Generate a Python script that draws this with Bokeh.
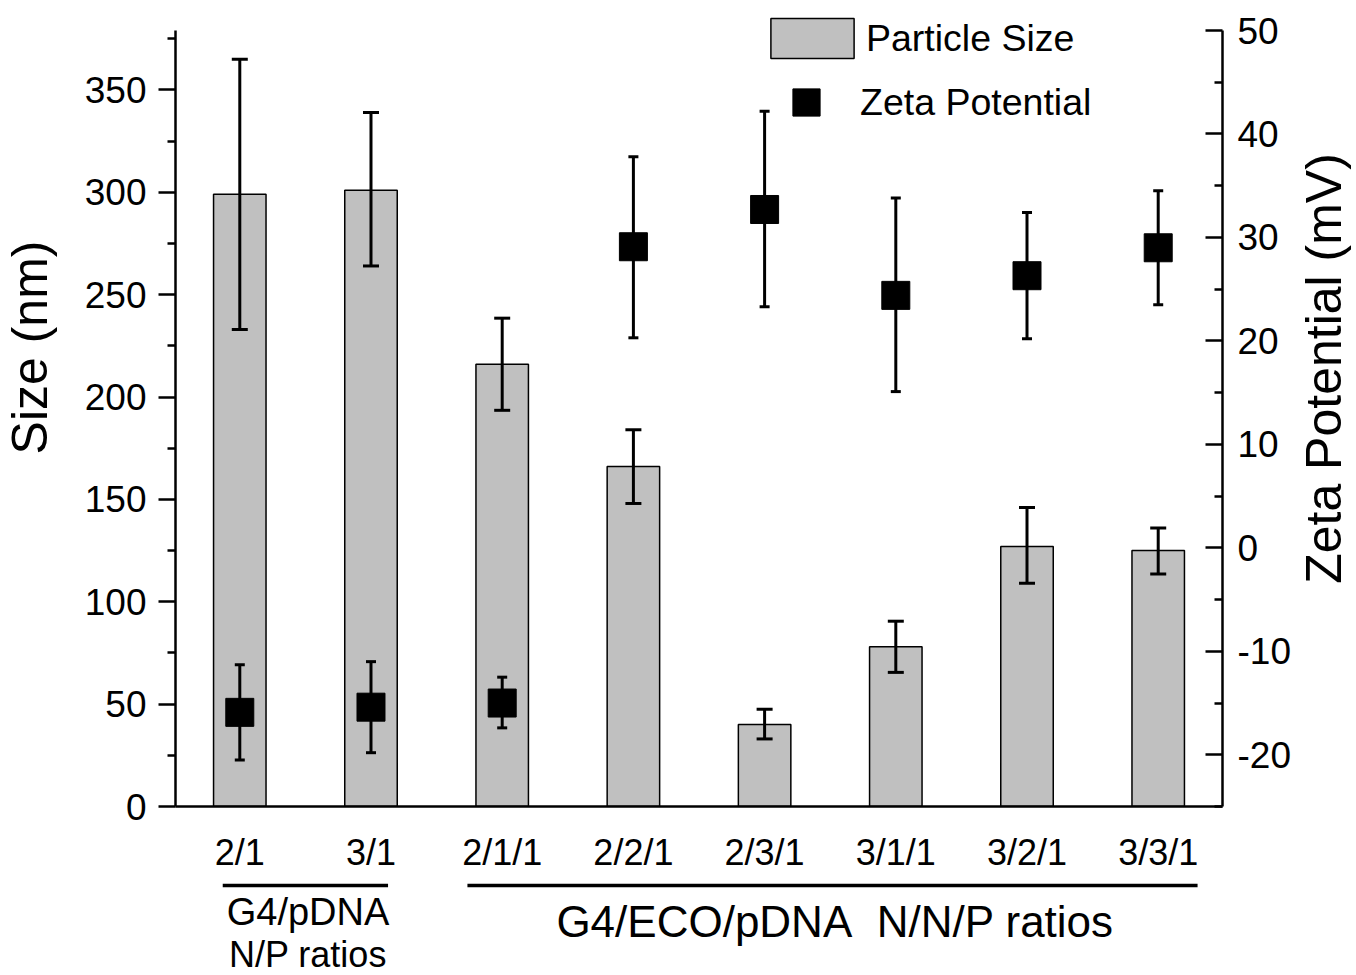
import math
from bokeh.plotting import figure
from bokeh.models import (Range1d, LinearAxis, FixedTicker, Whisker, TeeHead, ColumnDataSource,
                          Legend, LegendItem)
from bokeh.layouts import column, row
from bokeh.core.properties import value
from bokeh.embed import file_html
from bokeh.resources import INLINE

FONT = "Liberation Sans"

# ---------------- data ----------------
categories = ["2/1", "3/1", "2/1/1", "2/2/1", "2/3/1", "3/1/1", "3/2/1", "3/3/1"]
size_mean = [299, 301, 216, 166, 40, 78, 127, 125]
size_low = [233, 264, 193.5, 148, 33, 65.5, 109, 113.5]
size_high = [365, 339, 238.5, 184, 47.5, 90.5, 146, 136]
zeta_mean = [-15.9, -15.4, -15.0, 29.1, 32.7, 24.4, 26.3, 29.0]
zeta_low = [-20.5, -19.8, -17.4, 20.3, 23.3, 15.1, 20.2, 23.5]
zeta_high = [-11.3, -11.0, -12.5, 37.8, 42.2, 33.8, 32.4, 34.5]

size_ticks = [0, 50, 100, 150, 200, 250, 300, 350]
size_minor = [25, 75, 125, 175, 225, 275, 325, 375]
zeta_ticks = [-20, -10, 0, 10, 20, 30, 40, 50]
zeta_minor = [-25, -15, -5, 5, 15, 25, 35, 45]
size_bounds = (0, 379)
zeta_bounds = (-25, 50)

group_members = [[0, 1], [2, 3, 4, 5, 6, 7]]
group_pad = [(0.13, 0.13), (0.265, 0.30)]
group_text = [["G4/pDNA", "N/P ratios"], ["G4/ECO/pDNA\u00a0 N/N/P ratios"]]

x = list(range(len(categories)))

src = ColumnDataSource(dict(x=x, size=size_mean, slo=size_low, shi=size_high,
                            z=zeta_mean, zlo=zeta_low, zhi=zeta_high))

# ---------------- layout numbers ----------------
AXIS_PX = 776      # pixel length of the drawn axes
FRAME_PX = 794     # frame height (extra room on top for the legend)
ext = FRAME_PX / AXIS_PX
size_range = Range1d(size_bounds[0], size_bounds[0] + (size_bounds[1] - size_bounds[0]) * ext)
zeta_range = Range1d(zeta_bounds[0], zeta_bounds[0] + (zeta_bounds[1] - zeta_bounds[0]) * ext)

W_L, W_R = 58, 62
W_C = 1356 - W_L - W_R
H_P = 876
H_Q = 975 - H_P
MB_L, MB_R = 117, 72

# ---------------- main figure ----------------
p = figure(width=W_C, height=H_P, x_range=Range1d(-0.49, 7.49), y_range=size_range,
           x_axis_type=None, y_axis_type=None, output_backend="svg", toolbar_location=None,
           min_border_left=MB_L, min_border_right=MB_R, min_border_top=12, min_border_bottom=70)
p.outline_line_color = None
p.extra_y_ranges = {"zeta": zeta_range}

bars = p.vbar(x="x", top="size", bottom=0, width=0.4, source=src,
              fill_color="#c0c0c0", line_color="black", line_width=1.5)

w1 = Whisker(base="x", lower="slo", upper="shi", source=src, dimension="height",
             line_width=3, line_color="black", level="overlay",
             upper_head=TeeHead(size=16, line_width=3, line_color="black"),
             lower_head=TeeHead(size=16, line_width=3, line_color="black"))
p.add_layout(w1)

w2 = Whisker(base="x", lower="zlo", upper="zhi", source=src, dimension="height",
             y_range_name="zeta", line_width=3, line_color="black", level="overlay",
             upper_head=TeeHead(size=10, line_width=3, line_color="black"),
             lower_head=TeeHead(size=10, line_width=3, line_color="black"))
p.add_layout(w2)

pts = p.scatter("x", "z", source=src, y_range_name="zeta", marker="square", size=28,
                fill_color="black", line_color="black", level="overlay")

# axes
xaxis = LinearAxis(ticker=FixedTicker(ticks=x),
                   major_label_overrides={i: c for i, c in enumerate(categories)},
                   major_tick_out=0, major_tick_in=0, minor_tick_out=0, minor_tick_in=0,
                   major_label_standoff=25, major_label_text_font=FONT,
                   major_label_text_font_size="36px", major_label_text_color="black",
                   axis_line_width=2.5, axis_line_color="black")
p.add_layout(xaxis, "below")

yl = LinearAxis(ticker=FixedTicker(ticks=size_ticks, minor_ticks=size_minor), bounds=size_bounds,
                major_label_text_font=FONT, major_label_text_font_size="37px",
                major_label_text_color="black", major_label_standoff=12,
                major_tick_out=17, major_tick_in=0, minor_tick_out=8, minor_tick_in=0,
                axis_line_width=2.5, major_tick_line_width=2.5, minor_tick_line_width=2.5)
p.add_layout(yl, "left")

yr = LinearAxis(y_range_name="zeta", bounds=zeta_bounds,
                ticker=FixedTicker(ticks=zeta_ticks, minor_ticks=zeta_minor),
                major_label_overrides={t: str(t) for t in zeta_ticks if t < 0},
                major_label_text_font=FONT, major_label_text_font_size="37px",
                major_label_text_color="black", major_label_standoff=15,
                major_tick_out=0, major_tick_in=17, minor_tick_out=0, minor_tick_in=8,
                axis_line_width=2.5, major_tick_line_width=2.5, minor_tick_line_width=2.5)
p.add_layout(yr, "right")

# legends
common = dict(padding=0, margin=0, spacing=0, border_line_color=None,
              background_fill_alpha=0, label_text_font=FONT, label_text_font_size="37.5px",
              label_text_color="black")
leg1 = Legend(items=[LegendItem(label="Particle Size", renderers=[bars])],
              location=(585, 743), glyph_width=104, glyph_height=50, label_standoff=2, **common)
leg2 = Legend(items=[LegendItem(label="Zeta Potential", renderers=[pts])],
              location=(597, 670), glyph_width=68, glyph_height=68, label_standoff=20, **common)
p.add_layout(leg1)
p.add_layout(leg2)

# ---------------- group brackets below ----------------
q = figure(width=W_C, height=H_Q, x_range=p.x_range, y_range=Range1d(H_Q, 0),
           x_axis_type=None, y_axis_type=None, output_backend="svg", toolbar_location=None,
           min_border_left=MB_L, min_border_right=MB_R, min_border_top=0, min_border_bottom=0)
q.outline_line_color = None

x0s, x1s, tx, ty, tt, tsz = [], [], [], [], [], []
mids = [[35.5, 78], [44.5]]
sizes = [["38px", "36px"], ["44px"]]
for g, (mem, pad, lines) in enumerate(zip(group_members, group_pad, group_text)):
    a = min(mem) - pad[0]
    b = max(mem) + pad[1]
    x0s.append(a)
    x1s.append(b)
    for k, (line, ym) in enumerate(zip(lines, mids[g])):
        tx.append((a + b) / 2 + 0.02)
        ty.append(ym)
        tt.append(line)
        tsz.append(sizes[g][k])

q.segment(x0=x0s, y0=[9] * len(x0s), x1=x1s, y1=[9] * len(x1s), line_width=3.5, line_color="black")
q.text(x=tx, y=ty, text=tt, text_font=value(FONT), text_font_size=tsz,
       text_align="center", text_baseline="middle", text_color="black")

# ---------------- axis titles ----------------
def title_fig(width, text, cx, cy_from_top):
    f = figure(width=width, height=975, x_range=Range1d(0, width), y_range=Range1d(0, 975),
               x_axis_type=None, y_axis_type=None, output_backend="svg", toolbar_location=None,
               min_border_left=0, min_border_right=0, min_border_top=0, min_border_bottom=0)
    f.outline_line_color = None
    f.text(x=[cx], y=[975 - cy_from_top], text=[text], angle=math.pi / 2,
           text_font=value(FONT), text_font_size="50px", text_align="center",
           text_baseline="middle", text_color="black")
    return f

lt = title_fig(W_L, "Size (nm)", 29, 347)
rt = title_fig(W_R, "Zeta Potential (mV)", 29, 368)

layout = row(lt, column(p, q), rt)
open("out.html", "w").write(file_html(layout, INLINE))
